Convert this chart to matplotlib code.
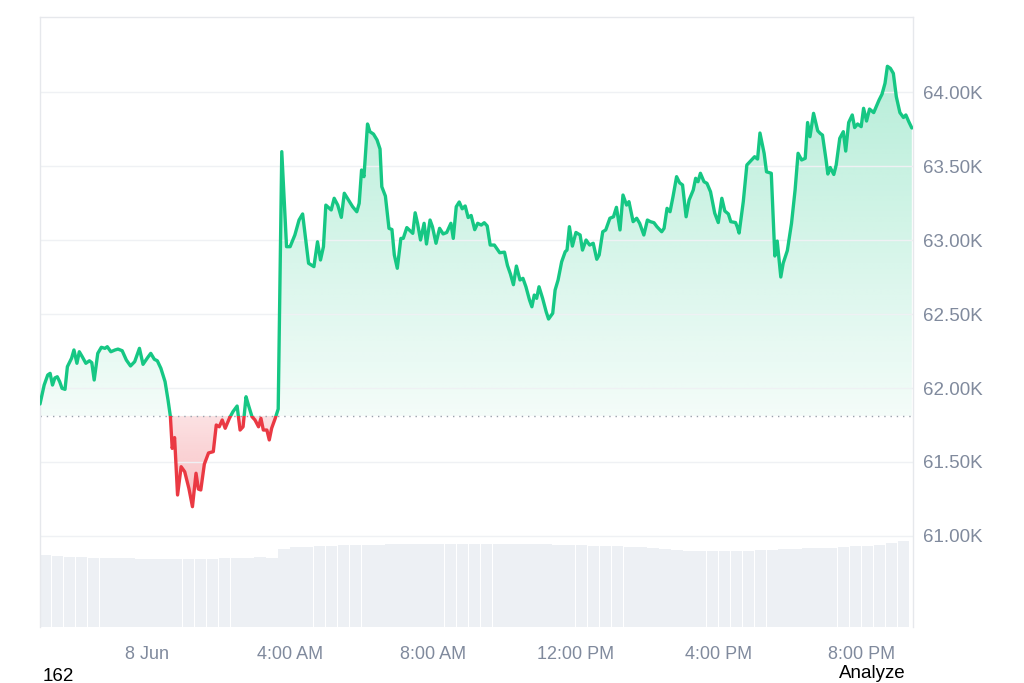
import numpy as np
import pandas as pd
import matplotlib
matplotlib.use("Agg")
import matplotlib.pyplot as plt
import matplotlib.dates as mdates
from matplotlib.patches import Rectangle
from matplotlib.ticker import FuncFormatter

# price samples, minutes relative to 8 Jun 00:00
minutes = [-180, -173, -167, -163, -159, -155, -151, -147, -143, -138, -134, -127, -123, -118, -114, -109,
           -103, -97, -93, -89, -83, -77, -71, -67, -61, -54, -49, -42, -35, -28, -21, -13, -7, 1, 6, 12,
           17, 23, 30, 35, 39, 42, 46, 51, 57, 63, 70, 76, 82, 86, 90, 96, 103, 111, 116, 121, 126, 131,
           138, 144, 151, 156, 161, 166, 170, 176, 181, 187, 191, 195, 201, 205, 209, 215, 220, 226, 234,
           240, 248, 255, 261, 271, 280, 286, 291, 296, 300, 309, 314, 320, 326, 331, 338, 345, 352, 356,
           360, 364, 370, 374, 380, 386, 391, 394, 400, 406, 411, 415, 420, 426, 430, 436, 443, 446, 450,
           454, 459, 465, 469, 475, 479, 485, 491, 497, 503, 510, 514, 519, 524, 529, 534, 539, 544, 550,
           555, 561, 566, 571, 576, 583, 592, 600, 605, 610, 615, 620, 626, 631, 636, 642, 646, 650, 654,
           658, 664, 670, 674, 681, 685, 690, 696, 702, 705, 709, 714, 720, 727, 731, 737, 743, 749, 755,
           759, 765, 770, 777, 783, 788, 794, 799, 805, 809, 816, 822, 827, 834, 840, 845, 851, 856, 864,
           868, 873, 878, 883, 889, 894, 899, 905, 910, 917, 921, 925, 929, 935, 940, 946, 953, 959, 965,
           970, 976, 980, 988, 991, 994, 1001, 1007, 1015, 1020, 1025, 1029, 1036, 1040, 1048, 1054, 1058,
           1064, 1068, 1075, 1082, 1088, 1093, 1099, 1105, 1109, 1113, 1119, 1126, 1130, 1134, 1140, 1143,
           1147, 1153, 1157, 1163, 1169, 1173, 1178, 1184, 1188, 1193, 1199, 1203, 1208, 1213, 1220, 1229,
           1234, 1239, 1243, 1248, 1253, 1258, 1264, 1270, 1274, 1279, 1284]
prices = [61892, 62020, 62088, 62099, 62020, 62068, 62076, 62043, 61998, 61991, 62144, 62201, 62257, 62167,
          62245, 62211, 62167, 62184, 62171, 62054, 62234, 62275, 62268, 62279, 62245, 62257, 62263, 62252,
          62189, 62149, 62178, 62268, 62160, 62207, 62234, 62194, 62184, 62133, 62043, 61919, 61806, 61592,
          61665, 61277, 61468, 61434, 61322, 61198, 61424, 61317, 61311, 61486, 61561, 61570, 61750, 61738,
          61784, 61728, 61795, 61840, 61878, 61716, 61738, 61941, 61885, 61806, 61784, 61738, 61795, 61716,
          61716, 61649, 61728, 61795, 61858, 63597, 62955, 62955, 63034, 63135, 63176, 62843, 62820, 62988,
          62865, 62955, 63236, 63203, 63282, 63236, 63153, 63316, 63270, 63225, 63191, 63248, 63473, 63428,
          63784, 63732, 63716, 63676, 63615, 63360, 63297, 63079, 63071, 62899, 62809, 63011, 63011, 63084,
          63057, 63045, 63184, 63113, 63000, 63113, 62973, 63135, 63090, 62978, 63079, 63041, 63051, 63113,
          63011, 63225, 63257, 63211, 63230, 63152, 63166, 63070, 63113, 63101, 63117, 63095, 62966, 62966,
          62914, 62918, 62828, 62770, 62698, 62824, 62730, 62741, 62684, 62595, 62549, 62628, 62606, 62684,
          62606, 62515, 62466, 62505, 62662, 62730, 62853, 62921, 62932, 63090, 62959, 63051, 63034, 62932,
          63000, 62966, 62978, 62870, 62899, 63056, 63068, 63147, 63157, 63221, 63068, 63304, 63236, 63259,
          63124, 63147, 63113, 63034, 63135, 63124, 63117, 63090, 63056, 63079, 63214, 63191, 63293, 63428,
          63387, 63372, 63157, 63270, 63338, 63417, 63394, 63451, 63394, 63383, 63326, 63182, 63118, 63282,
          63196, 63176, 63124, 63118, 63088, 63047, 63259, 63507, 63541, 63563, 63547, 63723, 63586, 63461,
          63451, 62892, 62993, 62750, 62843, 62929, 63113, 63338, 63586, 63541, 63552, 63794, 63698, 63856,
          63738, 63721, 63709, 63541, 63446, 63490, 63443, 63507, 63687, 63732, 63601, 63794, 63845, 63760,
          63784, 63766, 63890, 63804, 63885, 63861, 63946, 63986, 64059, 64174, 64160, 64126, 63968, 63861,
          63828, 63845, 63799, 63757]
assert len(minutes) == len(prices)

open_price = 61812  # dotted reference line

# volume, 20-minute buckets starting 7 Jun 21:00
vol_start = -180
volume = [14.4, 14.2, 14.0, 14.0, 13.9, 13.8, 13.8, 13.8, 13.7, 13.6, 13.6, 13.6, 13.6, 13.7, 13.7, 13.8,
          13.8, 13.9, 14.0, 13.9, 15.6, 16.0, 16.1, 16.2, 16.3, 16.4, 16.4, 16.5, 16.5, 16.6, 16.6, 16.6,
          16.7, 16.6, 16.6, 16.7, 16.6, 16.6, 16.7, 16.6, 16.6, 16.6, 16.6, 16.5, 16.4, 16.4, 16.3, 16.2,
          16.2, 16.1, 16.0, 15.8, 15.6, 15.4, 15.3, 15.2, 15.2, 15.2, 15.2, 15.3, 15.4, 15.5, 15.6, 15.7,
          15.8, 15.8, 15.9, 16.0, 16.2, 16.3, 16.4, 16.8, 17.2]

y_ticks = [61000, 61500, 62000, 62500, 63000, 63500, 64000]

GREEN = "#16c784"
RED = "#ea3943"
GREY_TXT = "#808a9d"

plt.rcParams["font.family"] = ["Liberation Sans", "DejaVu Sans"]

day = pd.Timestamp("2024-06-08")
t = mdates.date2num(day + pd.to_timedelta(minutes, unit="m"))
vol_min = [vol_start + 20 * i for i in range(len(volume))]
tv = mdates.date2num(day + pd.to_timedelta(vol_min, unit="m"))
x0 = mdates.date2num(day + pd.Timedelta(minutes=-180))
x1 = mdates.date2num(day + pd.Timedelta(minutes=1286))
ylo, yhi = 60385, 64507

fig = plt.figure(figsize=(10.24, 6.83), dpi=100)
pos = [40 / 1024, 56 / 683, 873 / 1024, 610 / 683]

# volume underneath
axv = fig.add_axes(pos)
axv.bar(tv, volume, width=20 / 1440 * 0.96, align="edge", color="#edf0f4", linewidth=0)
axv.set_xlim(x0, x1)
axv.set_ylim(0, 122)
axv.axis("off")

ax = fig.add_axes(pos)
ax.patch.set_visible(False)

# gradient area between line and open price
ys = np.linspace(ylo, yhi, 500)
rgba = np.zeros((len(ys), 2, 4))
g = np.array(matplotlib.colors.to_rgb(GREEN))
r = np.array(matplotlib.colors.to_rgb(RED))
for i, yv in enumerate(ys):
    if yv >= open_price:
        a = 0.05 + 0.30 * (yv - open_price) / (yhi - open_price)
        rgba[i, :, :3] = g
    else:
        a = min(0.34, 0.15 + 0.19 * (open_price - yv) / (open_price - 61150))
        rgba[i, :, :3] = r
    rgba[i, :, 3] = a
im = ax.imshow(rgba, extent=[x0, x1, ylo, yhi], origin="lower", aspect="auto",
               interpolation="bilinear", zorder=1)
area = ax.fill_between(t, prices, open_price, facecolor="none", edgecolor="none")
im.set_clip_path(area.get_paths()[0], transform=ax.transData)

up, = ax.plot(t, prices, color=GREEN, lw=2.4, zorder=3, solid_joinstyle="round", solid_capstyle="round")
up.set_clip_path(Rectangle((x0, open_price), x1 - x0, 5000, transform=ax.transData))
down, = ax.plot(t, prices, color=RED, lw=2.4, zorder=3, solid_joinstyle="round", solid_capstyle="round")
down.set_clip_path(Rectangle((x0, open_price - 5000), x1 - x0, 5000, transform=ax.transData))

ax.axhline(open_price, color="#9aa1ad", lw=1, ls=(0, (1, 3.5)), zorder=2)

ax.set_xlim(x0, x1)
ax.set_ylim(ylo, yhi)
ax.set_yticks(y_ticks)
ax.yaxis.tick_right()
ax.yaxis.set_major_formatter(FuncFormatter(lambda v, p: f"{v / 1000:.2f}K"))
ax.grid(axis="y", color="#eff1f4", lw=1)
ax.tick_params(axis="y", length=0, pad=7, labelsize=13.5, labelcolor=GREY_TXT)


def time_label(v, p):
    d = mdates.num2date(v)
    if d.hour == 0:
        return f"{d.day} {d:%b}"
    return f"{d.hour % 12 or 12}:{d:%M} {d:%p}"


ax.xaxis.set_major_locator(mdates.HourLocator(byhour=[0, 4, 8, 12, 16, 20]))
ax.xaxis.set_major_formatter(FuncFormatter(time_label))
ax.tick_params(axis="x", length=0, pad=14, labelsize=13, labelcolor=GREY_TXT)

for side in ["top", "left", "right"]:
    ax.spines[side].set_color("#e6e8ec")
    ax.spines[side].set_linewidth(1)
ax.spines["bottom"].set_visible(False)

fig.text(43 / 1024, 2 / 683, "162", ha="left", va="baseline", fontsize=13.5, color="black")
fig.text(906 / 1024, 5 / 683, "Analyze", ha="right", va="baseline", fontsize=13.5, color="black")

fig.savefig("out.png", dpi=100)
